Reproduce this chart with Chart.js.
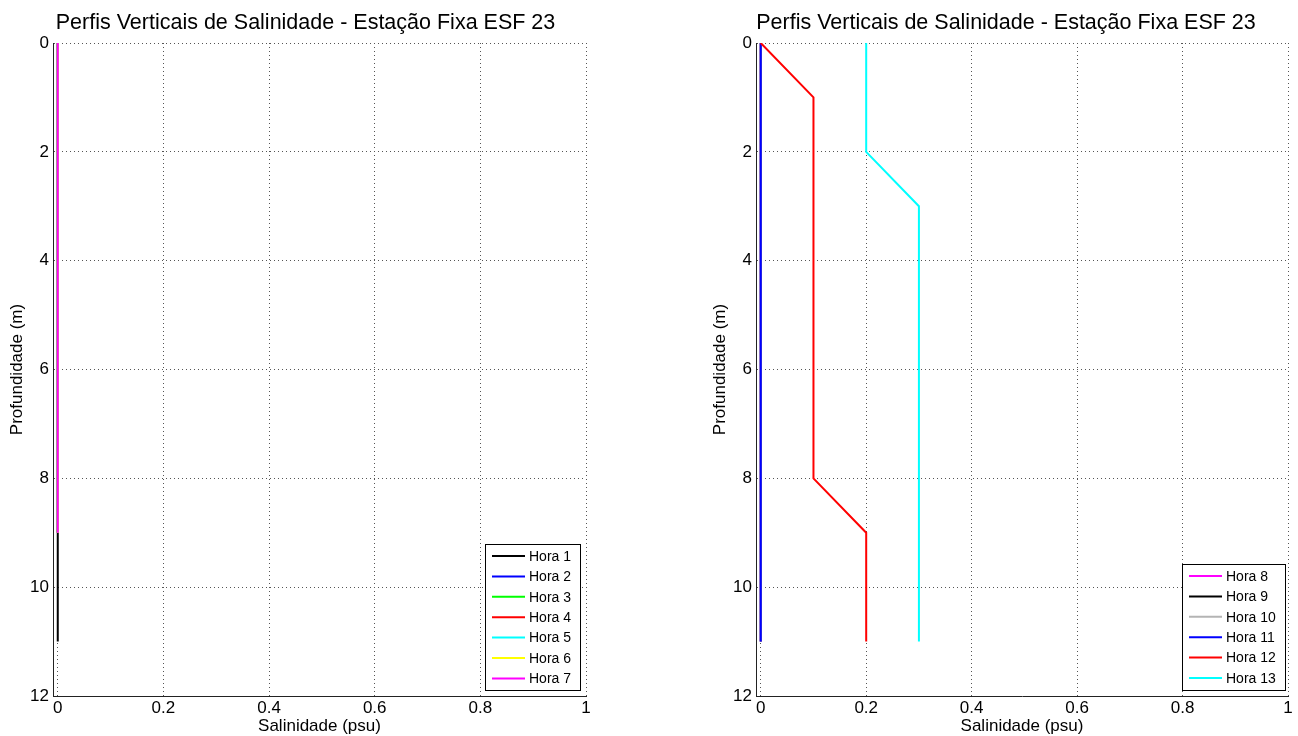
<!DOCTYPE html>
<html><head><meta charset="utf-8">
<script src="https://cdn.jsdelivr.net/npm/chart.js@4.4.0/dist/chart.umd.min.js"></script>
<style>
html,body{margin:0;padding:0;background:#fff;overflow:hidden;width:1298px;height:736px;}
#w1{position:absolute;left:0;top:0;width:649px;height:736px;}
#w2{position:absolute;left:703px;top:0;width:595px;height:736px;}
</style></head><body>
<div id="w1"><canvas id="c1"></canvas></div>
<div id="w2"><canvas id="c2"></canvas></div>
<script>
// ---- data ----
const titleText = 'Perfis Verticais de Salinidade - Estação Fixa ESF 23';
const xLabel = 'Salinidade (psu)';
const yLabel = 'Profundidade (m)';
const xTicks = [0, 0.2, 0.4, 0.6, 0.8, 1];
const yTicks = [0, 2, 4, 6, 8, 10, 12];

const depthFull  = [0, 1, 2, 3, 4, 5, 6, 7, 8, 9, 10, 11];
const depthShort = [0, 1, 2, 3, 4, 5, 6, 7, 8, 9];

const labelsLeft = ['Hora 1', 'Hora 2', 'Hora 3', 'Hora 4', 'Hora 5', 'Hora 6', 'Hora 7'];
const colorsLeft = ['#000000', '#0000ff', '#00ff00', '#ff0000', '#00ffff', '#ffff00', '#ff00ff'];
const salHora1 = [0, 0, 0, 0, 0, 0, 0, 0, 0, 0, 0, 0];
const salHora2 = [0, 0, 0, 0, 0, 0, 0, 0, 0, 0];
const salHora3 = [0, 0, 0, 0, 0, 0, 0, 0, 0, 0];
const salHora4 = [0, 0, 0, 0, 0, 0, 0, 0, 0, 0];
const salHora5 = [0, 0, 0, 0, 0, 0, 0, 0, 0, 0];
const salHora6 = [0, 0, 0, 0, 0, 0, 0, 0, 0, 0];
const salHora7 = [0, 0, 0, 0, 0, 0, 0, 0, 0, 0];
const depthsLeft = [depthFull, depthShort, depthShort, depthShort, depthShort, depthShort, depthShort];
const salLeft = [salHora1, salHora2, salHora3, salHora4, salHora5, salHora6, salHora7];

const labelsRight = ['Hora 8', 'Hora 9', 'Hora 10', 'Hora 11', 'Hora 12', 'Hora 13'];
const colorsRight = ['#ff00ff', '#000000', '#b4b4b4', '#0000ff', '#ff0000', '#00ffff'];
const salHora8  = [0, 0, 0, 0, 0, 0, 0, 0, 0, 0, 0, 0];
const salHora9  = [0, 0, 0, 0, 0, 0, 0, 0, 0, 0, 0, 0];
const salHora10 = [0, 0, 0, 0, 0, 0, 0, 0, 0, 0, 0, 0];
const salHora11 = [0, 0, 0, 0, 0, 0, 0, 0, 0, 0, 0, 0];
const salHora12 = [0, 0.1, 0.1, 0.1, 0.1, 0.1, 0.1, 0.1, 0.1, 0.2, 0.2, 0.2];
const salHora13 = [0.2, 0.2, 0.2, 0.3, 0.3, 0.3, 0.3, 0.3, 0.3, 0.3, 0.3, 0.3];
const depthsRight = [depthFull, depthFull, depthFull, depthFull, depthFull, depthFull];
const salRight = [salHora8, salHora9, salHora10, salHora11, salHora12, salHora13];

// ---- rendering ----
const FONT = '"Liberation Sans", Arial, Helvetica, sans-serif';

const titlePlugin = {
  id: 'matTitle',
  afterDraw(chart, args, opts) {
    const ctx = chart.ctx, ca = chart.chartArea;
    ctx.save();
    ctx.font = '21.5px ' + FONT;
    ctx.fillStyle = '#000';
    ctx.textAlign = 'center';
    ctx.textBaseline = 'middle';
    ctx.fillText(opts.text, (ca.left + ca.right) / 2 + opts.dx, opts.y);
    ctx.restore();
  }
};

const legendPlugin = {
  id: 'matLegend',
  afterDraw(chart, args, opts) {
    const ctx = chart.ctx, ca = chart.chartArea;
    const items = opts.labels.map((l, i) => ({label: l, color: opts.colors[i]}));
    ctx.save();
    ctx.font = '14px ' + FONT;
    const tw = Math.max(...items.map(it => ctx.measureText(it.label).width));
    const rowH = 20.4;
    const w = Math.round(44 + tw + 9);
    const h = Math.round((items.length - 1) * rowH + 24);
    const right = Math.round(ca.right - opts.offR);
    const bottom = Math.round(ca.bottom - opts.offB);
    const left = right - w, top = bottom - h;
    ctx.fillStyle = '#fff';
    ctx.fillRect(left, top, w, h);
    ctx.strokeStyle = '#000';
    ctx.lineWidth = 1;
    ctx.strokeRect(left + 0.5, top + 0.5, w, h);
    items.forEach((it, i) => {
      const y = top + 12 + i * rowH;
      ctx.strokeStyle = it.color;
      ctx.lineWidth = 2;
      ctx.beginPath();
      ctx.moveTo(left + 7, y);
      ctx.lineTo(left + 40, y);
      ctx.stroke();
      ctx.fillStyle = '#000';
      ctx.textAlign = 'left';
      ctx.textBaseline = 'middle';
      ctx.fillText(it.label, left + 44, y + 1);
    });
    ctx.restore();
  }
};

function makeChart(id, labels, colors, sals, depths, padRight, legendOffR, titleDx) {
  const n = labels.length;
  const datasets = labels.map((l, i) => ({
    label: l,
    data: sals[i].map((s, k) => ({x: s, y: depths[i][k]})),
    borderColor: colors[i],
    backgroundColor: colors[i],
    borderWidth: 2,
    pointRadius: 0,
    showLine: true,
    fill: false,
    tension: 0,
    order: n - i
  }));
  return new Chart(document.getElementById(id), {
    type: 'scatter',
    data: {datasets},
    plugins: [titlePlugin, legendPlugin],
    options: {
      responsive: true,
      maintainAspectRatio: false,
      animation: false,
      events: [],
      layout: {padding: {top: 43, right: padRight, left: 0, bottom: 0}},
      plugins: {
        legend: {display: false},
        title: {display: false},
        tooltip: {enabled: false},
        matTitle: {text: titleText, dx: titleDx, y: 23},
        matLegend: {labels, colors, offR: legendOffR, offB: 6}
      },
      scales: {
        x: {
          type: 'linear',
          min: -0.009,
          max: 1,
          afterBuildTicks: s => { s.ticks = xTicks.map(v => ({value: v})); },
          afterFit: s => { s.height = 40; },
          ticks: {
            color: '#000',
            font: {family: FONT, size: 17},
            padding: 2,
            maxRotation: 0,
            callback: v => String(+Number(v).toFixed(1))
          },
          grid: {color: '#555', lineWidth: 1, drawTicks: false},
          border: {display: true, color: '#222', width: 1, dash: [1, 3]},
          title: {display: true, text: xLabel, color: '#000', font: {family: FONT, size: 17}, padding: {top: 0, bottom: -1}}
        },
        y: {
          type: 'linear',
          reverse: true,
          min: 0,
          max: 12,
          afterBuildTicks: s => { s.ticks = yTicks.map(v => ({value: v})); },
          afterFit: s => { s.width = 53; },
          ticks: {
            color: '#000',
            font: {family: FONT, size: 17},
            padding: 4,
            callback: v => String(v)
          },
          grid: {color: '#555', lineWidth: 1, drawTicks: false},
          border: {display: true, color: '#222', width: 1, dash: [1, 3]},
          title: {display: true, text: yLabel, color: '#000', font: {family: FONT, size: 17}, padding: {top: 7, bottom: 0}}
        }
      }
    }
  });
}

makeChart('c1', labelsLeft, colorsLeft, salLeft, depthsLeft, 63, 6, -14);
makeChart('c2', labelsRight, colorsRight, salRight, depthsRight, 10, 3, -16);
</script>
</body></html>
